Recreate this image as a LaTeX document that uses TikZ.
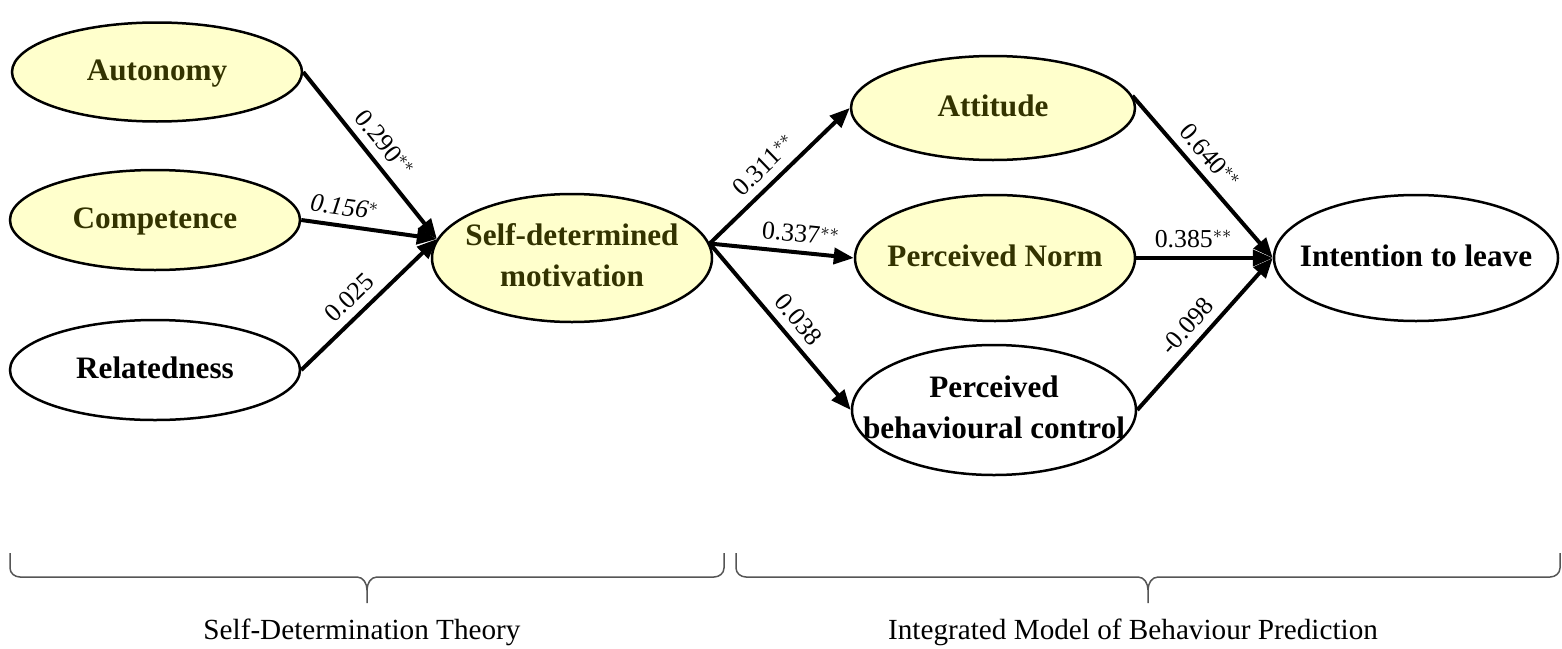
\documentclass[tikz,border=0pt]{standalone}
\usepackage{fontspec}
\setmainfont{Liberation Serif}
\usetikzlibrary{arrows.meta,shapes.geometric}
\definecolor{nodefill}{HTML}{FFFFCC}
\definecolor{olivetext}{HTML}{333300}
\definecolor{bracegray}{HTML}{555555}
\newcommand\ctext[1]{\makebox[0pt]{\begin{tabular}{@{}c@{}}#1\end{tabular}}}
\tikzset{
  latent/.style={ellipse, draw=black, line width=1.25pt, inner sep=0pt,
     font=\fontsize{15.6}{20.5}\selectfont\bfseries},
  yel/.style={latent, fill=nodefill, text=olivetext},
  wht/.style={latent, fill=white, text=black},
  path/.style={line width=2pt, -{Triangle[length=10pt,width=8pt]}},
  coef/.style={font=\fontsize{12.9}{14}\selectfont, sloped, above=3pt, inner sep=1pt},
  grouplabel/.style={font=\fontsize{14.6}{16}\selectfont},
  groupbrace/.style={draw=bracegray, line width=0.75pt}
}
\begin{document}
\begin{tikzpicture}[x=0.5pt, y=-0.5pt]
\useasboundingbox (0,0) rectangle (1562,648);
% nodes
\node[yel, minimum width=145pt, minimum height=49.5pt] (aut) at (157,72) {\ctext{Autonomy}};
\node[yel, minimum width=145pt, minimum height=50pt] (comp) at (155,220) {\ctext{Competence}};
\node[wht, minimum width=145pt, minimum height=50pt] (rel) at (155,370) {\ctext{Relatedness}};
\node[yel, minimum width=140pt, minimum height=64pt] (sdm) at (572,258) {\ctext{Self-determined\\motivation}};
\node[yel, minimum width=142pt, minimum height=52pt] (att) at (993,108) {\ctext{Attitude}};
\node[yel, minimum width=140pt, minimum height=63pt] (pn) at (995,258) {\ctext{Perceived Norm}};
\node[wht, minimum width=142pt, minimum height=65pt] (pbc) at (994,410) {\ctext{Perceived\\behavioural control}};
\node[wht, minimum width=142pt, minimum height=63pt] (itl) at (1416,258) {\ctext{Intention to leave}};
% paths
\draw[path] (aut.east) -- (sdm.172) node[coef, pos=0.5] {0.290$^{**}$};
\draw[path] (comp.east) -- (sdm.172) node[coef, pos=0.3] {\itshape 0.156$^{*}$};
\draw[path] (rel.east) -- (sdm.172) node[coef, pos=0.45] {0.025};
\draw[path] (sdm.6) -- (att.west) node[coef, pos=0.48] {0.311$^{**}$};
\draw[path] (sdm.6) -- (pn.west) node[coef, pos=0.62] {0.337$^{**}$};
\draw[path] (sdm.6) -- (pbc.west) node[coef, pos=0.53] {0.038};
\draw[path] (att.5) -- (itl.west) node[coef, pos=0.45] {0.640$^{**}$};
\draw[path] (pn.east) -- (itl.west) node[coef, pos=0.42] {0.385$^{**}$};
\draw[path] (pbc.east) -- (itl.west) node[coef, pos=0.47] {-0.098};
% braces
\draw[groupbrace] (10,553) -- (10,568) to[out=-90,in=180] (20,577) -- (357,577)
   to[out=0,in=90] (367,590) -- (367,603);
\draw[groupbrace] (367,590) to[out=90,in=180] (377,577) -- (714,577)
   to[out=0,in=-90] (724,568) -- (724,553);
\draw[groupbrace] (736,553) -- (736,568) to[out=-90,in=180] (746,577) -- (1138,577)
   to[out=0,in=90] (1148,590) -- (1148,603);
\draw[groupbrace] (1148,590) to[out=90,in=180] (1158,577) -- (1550,577)
   to[out=0,in=-90] (1560,568) -- (1560,553);
\node[grouplabel] (sdt) at (362,632) {Self-Determination Theory};
\node[grouplabel] (imbp) at (1133,632) {Integrated Model of Behaviour Prediction};
\end{tikzpicture}
\end{document}
